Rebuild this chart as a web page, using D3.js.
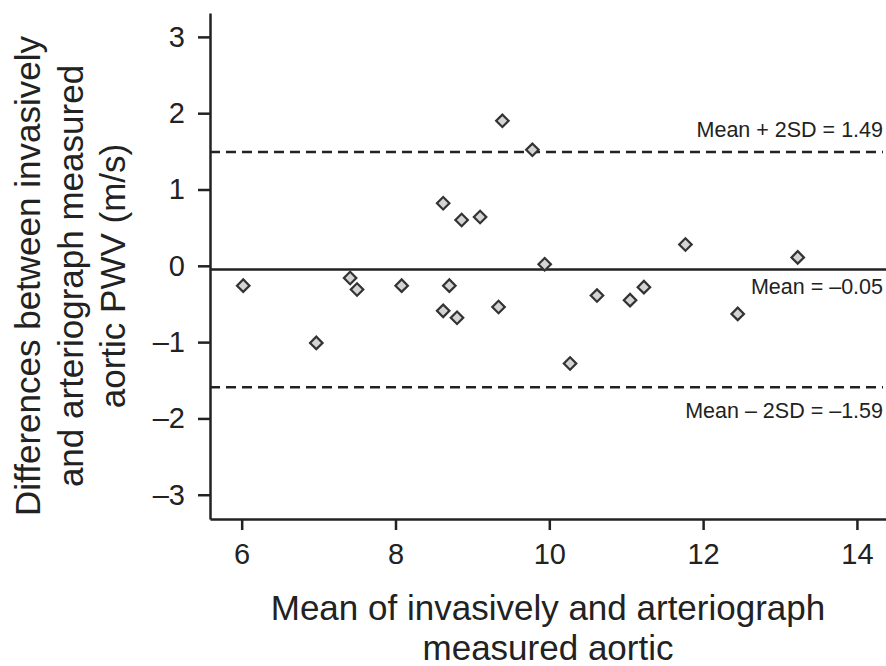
<!DOCTYPE html>
<html>
<head>
<meta charset="utf-8">
<script src="https://cdn.jsdelivr.net/npm/d3@7"></script>
<style>
  body { margin: 0; background: #fff; }
  text { font-family: "Liberation Sans", Arial, Helvetica, sans-serif; fill: #222; }
  .axis path, .axis line { stroke: #222; stroke-width: 2.5; }
  .axis text { font-size: 29px; fill: #222; }
</style>
</head>
<body>
<div id="chart"></div>
<script>
// mean of the two methods (x) and their difference (y)
const meanVals = [6.02, 6.97, 7.41, 7.50, 8.08, 8.62, 8.62, 8.70, 8.80, 8.86, 9.10,
                  9.34, 9.39, 9.78, 9.94, 10.27, 10.62, 11.05, 11.23, 11.77, 12.45, 13.23];
const diffVals = [-0.26, -1.01, -0.16, -0.31, -0.26, 0.82, -0.59, -0.26, -0.68, 0.60, 0.64,
                  -0.54, 1.90, 1.52, 0.02, -1.28, -0.39, -0.45, -0.28, 0.28, -0.63, 0.11];

const xTicks = [6, 8, 10, 12, 14];
const yTicks = [-3, -2, -1, 0, 1, 2, 3];

const refValues = [1.49, -0.05, -1.59];
const refLabels = ["Mean + 2SD = 1.49", "Mean = \u20130.05", "Mean \u2013 2SD = \u20131.59"];
const refDashed = [true, false, true];

const width = 886, height = 666;
const plot = { left: 210, right: 886, top: 13, bottom: 519 };

const svg = d3.select("#chart").append("svg")
  .attr("width", width)
  .attr("height", height);

const x = d3.scaleLinear()
  .domain([5.588, 14.378])
  .range([plot.left, plot.right]);

const y = d3.scaleLinear()
  .domain([-3.318, 3.313])
  .range([plot.bottom, plot.top]);

const fmt = d => d < 0 ? "\u2013" + Math.abs(d) : String(d);

// reference lines
const labelOffset = [-15, 24, 31];
refValues.forEach((v, i) => {
  svg.append("line")
    .attr("x1", plot.left)
    .attr("x2", refDashed[i] ? 883 : plot.right)
    .attr("y1", y(v))
    .attr("y2", y(v))
    .attr("stroke", "#222")
    .attr("stroke-width", 2.5)
    .attr("stroke-dasharray", refDashed[i] ? "10,6" : null);

  svg.append("text")
    .attr("x", 883)
    .attr("y", y(v) + labelOffset[i])
    .attr("text-anchor", "end")
    .style("font-size", "21.5px")
    .text(refLabels[i]);
});

// points
const diamond = d3.symbol().type(d3.symbolSquare).size(78);
svg.append("g")
  .selectAll("path")
  .data(meanVals.map((m, i) => ({ m: m, d: diffVals[i] })))
  .enter().append("path")
  .attr("d", diamond)
  .attr("transform", d => `translate(${x(d.m)},${y(d.d)}) rotate(45)`)
  .attr("fill", "#d4d4d4")
  .attr("stroke", "#333")
  .attr("stroke-width", 2.2);

// axes
svg.append("g")
  .attr("class", "axis")
  .attr("transform", `translate(0,${plot.bottom})`)
  .call(d3.axisBottom(x).tickValues(xTicks).tickFormat(fmt)
    .tickSizeInner(11).tickSizeOuter(0).tickPadding(13));

svg.append("g")
  .attr("class", "axis")
  .attr("transform", `translate(${plot.left},0)`)
  .call(d3.axisLeft(y).tickValues(yTicks).tickFormat(fmt)
    .tickSizeInner(12).tickSizeOuter(0).tickPadding(13));

// axis titles
const xTitle = ["Mean of invasively and arteriograph", "measured aortic"];
const yTitle = ["Differences between invasively", "and arteriograph measured", "aortic PWV (m/s)"];

svg.append("text")
  .attr("text-anchor", "middle")
  .style("font-size", "35px")
  .selectAll("tspan")
  .data(xTitle)
  .enter().append("tspan")
  .attr("x", (plot.left + plot.right) / 2)
  .attr("y", (d, i) => 620 + i * 40)
  .text(d => d);

svg.append("text")
  .attr("text-anchor", "middle")
  .attr("transform", "translate(0,276) rotate(-90)")
  .style("font-size", "35px")
  .selectAll("tspan")
  .data(yTitle)
  .enter().append("tspan")
  .attr("x", 0)
  .attr("y", (d, i) => 40 + i * 42.5)
  .text(d => d);
</script>
</body>
</html>
